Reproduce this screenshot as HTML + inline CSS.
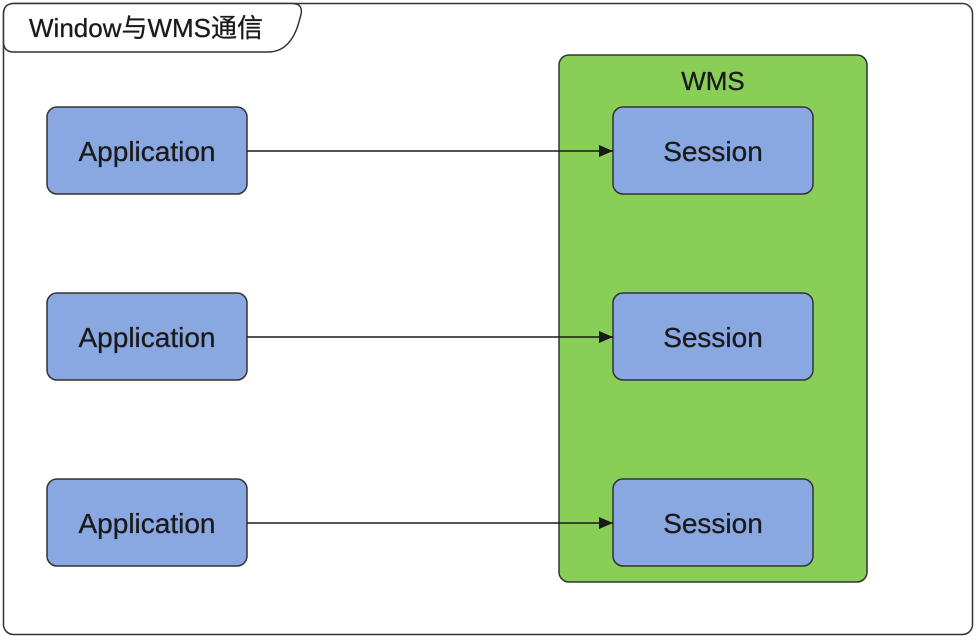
<!DOCTYPE html>
<html><head><meta charset="utf-8"><style>
body{margin:0;background:#fff;}
text{font-family:"Liberation Sans","Noto Sans CJK SC",sans-serif;fill:#1a1a1a;}
</style></head><body>
<svg width="976" height="636" viewBox="0 0 976 636" xmlns="http://www.w3.org/2000/svg">
<defs><marker id="a" markerWidth="16" markerHeight="14" refX="14" refY="7" orient="auto" markerUnits="userSpaceOnUse"><path d="M0,1 L14,7 L0,13 z" fill="#1a1a1a"/></marker></defs>
<rect x="3.5" y="3.5" width="969" height="631" rx="10" fill="#fff" stroke="#333" stroke-width="1.5"/>
<path d="M3.5,42 L3.5,14 Q3.5,3.5 14,3.5 L292,3.5 Q305,3.5 300,18 Q292,52 268,52 L14,52 Q3.5,52 3.5,42 z" fill="#fff" stroke="#333" stroke-width="1.5"/>
<text x="29" y="37" font-size="26" stroke="#1a1a1a" stroke-width="0.3">Window与WMS通信</text>
<rect x="559" y="55" width="308" height="527" rx="10" fill="#89cf57" stroke="#333" stroke-width="1.5"/>
<text x="713" y="90" font-size="26" text-anchor="middle" stroke="#1a1a1a" stroke-width="0.3">WMS</text>
<g stroke="#333" stroke-width="1.5" fill="#89a7e0">
<rect x="47" y="107" width="200" height="87" rx="10"/>
<rect x="47" y="293" width="200" height="87" rx="10"/>
<rect x="47" y="479" width="200" height="87" rx="10"/>
<rect x="613" y="107" width="200" height="87" rx="10"/>
<rect x="613" y="293" width="200" height="87" rx="10"/>
<rect x="613" y="479" width="200" height="87" rx="10"/>
</g>
<g font-size="28" text-anchor="middle" stroke="#1a1a1a" stroke-width="0.3">
<text x="147" y="161">Application</text>
<text x="147" y="347">Application</text>
<text x="147" y="533">Application</text>
<text x="713" y="161">Session</text>
<text x="713" y="347">Session</text>
<text x="713" y="533">Session</text>
</g>
<g stroke="#1a1a1a" stroke-width="1.5">
<line x1="247" y1="151" x2="613" y2="151" marker-end="url(#a)"/>
<line x1="247" y1="337" x2="613" y2="337" marker-end="url(#a)"/>
<line x1="247" y1="523" x2="613" y2="523" marker-end="url(#a)"/>
</g>
</svg>
</body></html>
